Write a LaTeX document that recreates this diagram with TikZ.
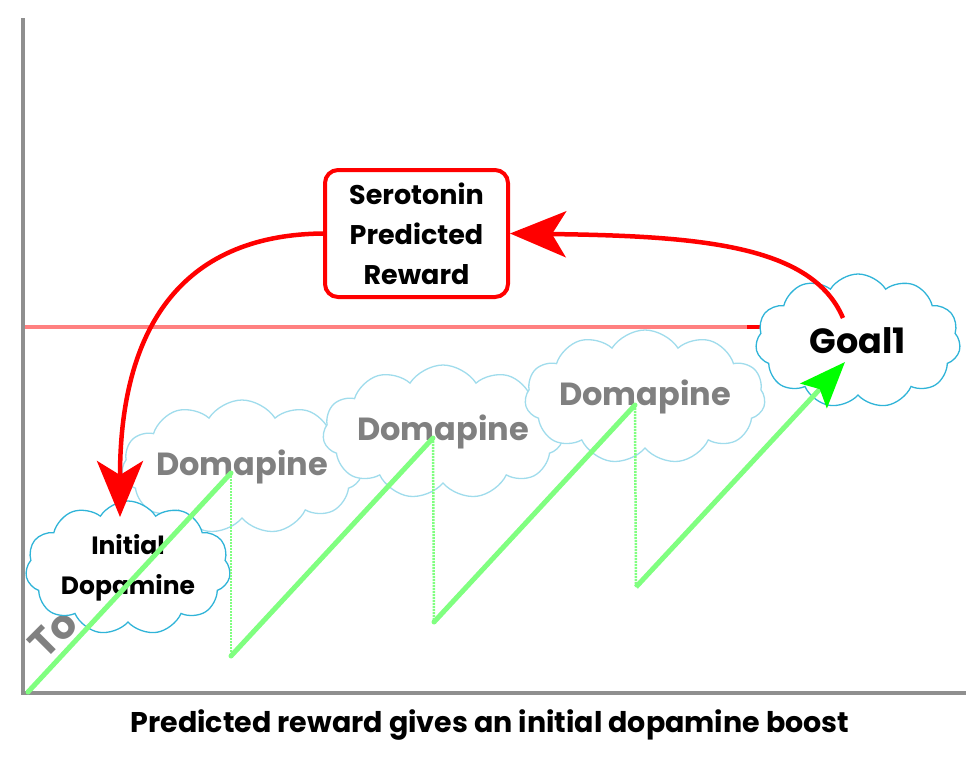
\documentclass[tikz,border=0pt]{standalone}
\usepackage{fontspec}
\setmainfont{Poppins}
\usetikzlibrary{shapes.symbols,arrows.meta}
\definecolor{axisgray}{HTML}{8F8F8F}
\definecolor{pinkline}{HTML}{FF8080}
\definecolor{lgreen}{HTML}{80FF80}
\definecolor{bgreen}{HTML}{00FF00}
\definecolor{cloudA}{HTML}{30B4D8}
\definecolor{cloudB}{HTML}{A0DCEC}
\definecolor{textgray}{HTML}{808080}
\definecolor{redc}{HTML}{FF0000}
\begin{document}
\begin{tikzpicture}[x=1pt,y=-1pt,
  cloudbox/.style={cloud, cloud puffs=11, cloud puff arc=115, cloud ignores aspect,
    draw, fill=white, line width=1.3pt, inner sep=0pt, align=center,
    minimum width=205pt, minimum height=134pt},
  domcloud/.style={cloudbox, draw=cloudB, text=textgray,
    font=\fontsize{32}{36}\selectfont\bfseries},
  axisline/.style={draw=axisgray, line width=4pt},
  rise/.style={draw=lgreen, line width=5pt, line cap=round},
  drop/.style={draw=lgreen, line width=2.5pt, dash pattern=on 2pt off 1pt},
  redarrow/.style={draw=redc, line width=4.5pt,
    -{Stealth[length=56pt, width=46pt, inset=14pt, color=redc, fill=redc]}},
]
\useasboundingbox (0,0) rectangle (979,756);

% axes
\coordinate (ytop) at (23,18);
\coordinate (orig) at (23,693);
\coordinate (xend) at (966,693);
\draw[axisline] (ytop) -- (orig) -- (xend);

% pink threshold line
\coordinate (pl0) at (25,327);
\coordinate (pl1) at (747,327);
\coordinate (pl2) at (763,327);
\draw[draw=pinkline, line width=4pt] (pl0) -- (pl1);
\draw[draw=redc, line width=4pt] (pl1) -- (pl2);

% hidden text behind initial cloud
\node[text=textgray, font=\fontsize{40}{44}\selectfont\bfseries, rotate=45, anchor=south west]
  (to) at (46,666) {To};

% Domapine clouds
\node[domcloud] (d1) at (242,467) {Domapine};
\node[domcloud] (d2) at (443,432) {Domapine};
\node[domcloud] (d3) at (645,397) {Domapine};

% Initial dopamine cloud
\node[cloudbox, draw=cloudA, text=black, font=\fontsize{25}{40}\selectfont\bfseries]
  (init) at (128,568) {Initial\\Dopamine};

% Goal cloud
\node[cloudbox, draw=cloudA, text=black, font=\fontsize{35}{40}\selectfont\bfseries]
  (goal) at (858,341) {Goal1};

% Serotonin box
\node[draw=redc, line width=4pt, rounded corners=13pt, fill=white, align=center,
  minimum width=183pt, minimum height=127pt, inner sep=0pt,
  font=\fontsize{27}{40}\selectfont\bfseries] (ser) at (416.5,233.5)
  {Serotonin\\Predicted\\Reward};

% green zigzag
\coordinate (g0) at (28,692);
\coordinate (p1) at (231,473);
\coordinate (b1) at (231,656);
\coordinate (p2) at (433,438);
\coordinate (b2) at (434,622);
\coordinate (p3) at (635,405);
\coordinate (b3) at (636,587);
\coordinate (gt) at (845,362);
\draw[rise] (g0) -- (p1);
\draw[drop] (p1) -- (b1);
\draw[rise] (b1) -- (p2);
\draw[drop] (p2) -- (b2);
\draw[rise] (b2) -- (p3);
\draw[drop] (p3) -- (b3);
\draw[draw=lgreen, line width=5pt,
  -{Stealth[length=46pt, width=36pt, inset=9pt, color=bgreen, fill=bgreen]}]
  (b3) -- (gt);

% red arrows
\coordinate (gs) at (843,318);
\coordinate (it) at (120,517);
\draw[redarrow] (gs) .. controls (812,245) and (700,236) .. (ser.east);
\draw[redarrow] (ser.west) .. controls (180,235) and (120,330) .. (it);

% caption
\node[font=\fontsize{28.5}{32}\selectfont\bfseries] (cap) at (490,725)
  {Predicted reward gives an initial dopamine boost};
\end{tikzpicture}
\end{document}
